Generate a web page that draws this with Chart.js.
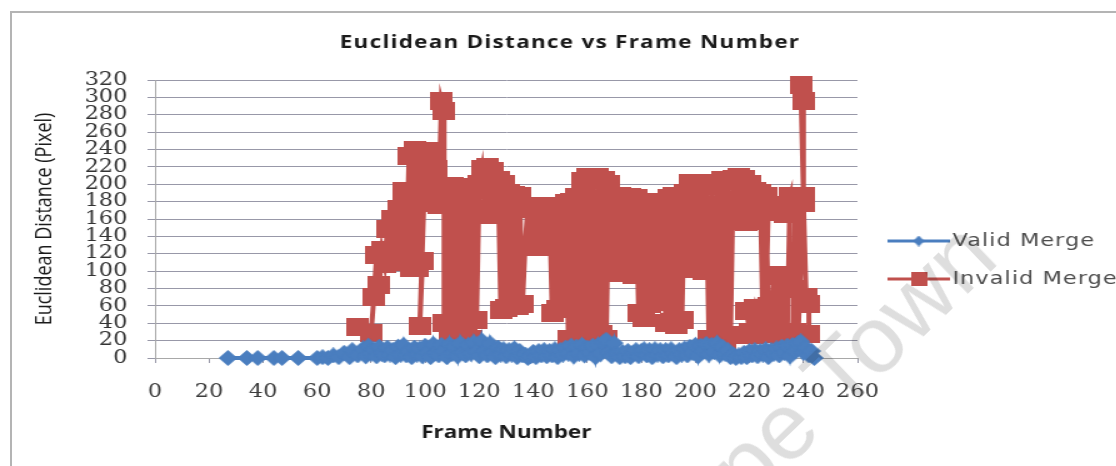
<!DOCTYPE html>
<html>
<head>
<meta charset="utf-8">
<title>Euclidean Distance vs Frame Number</title>
<script src="https://cdn.jsdelivr.net/npm/chart.js@4.4.0/dist/chart.umd.min.js"></script>
<style>
  html, body { margin:0; padding:0; background:#fff; overflow:hidden; }
  .frame { position:absolute; left:10px; top:11px; width:1120px; height:470px;
           border-top:2px solid #b4b4b4; border-left:2px solid #b4b4b4; }
  .wrap { position:absolute; left:0; top:0; width:893px; height:466px;
          transform:scaleX(1.25); transform-origin:0 0; }
  .mark { position:absolute; left:600px; top:528px; transform-origin:0 0; transform:rotate(-44deg);
          font:95px "Liberation Sans"; color:rgba(0,0,0,0.13); white-space:nowrap; pointer-events:none; }
</style>
</head>
<body>
<div class="frame"></div>
<div class="wrap"><canvas id="myChart" width="893" height="466"></canvas></div>
<div class="mark">Cape Town</div>
<script>
// 축 눈금
var v_xTicks = [0,20,40,60,80,100,120,140,160,180,200,220,240,260];
var v_yTicks = [0,20,40,60,80,100,120,140,160,180,200,220,240,260,280,300,320];

// Valid Merge : [frame, distance]
var v_valid = [
  [27,0],[34,0],[38,0],[44,0],[47,0],[53,0],[60,0],[62,1],[64,0],[66,3],[68,1],[70,6],[72,1],[73,9],
  [75,3],[77,11],[78,2],[79,14],[80,5],[81,10],[82,2],[83,13],[84,5],[85,3],[86,12],[87,4],[88,9],
  [89,1],[90,13],[91,4],[92,15],[93,3],[94,8],[95,1],[96,12],[97,4],[98,11],[99,2],[100,14],[101,6],
  [102,1],[103,16],[104,6],[105,3],[106,15],[107,8],[108,1],[109,16],[110,5],[111,13],[112,2],[113,17],
  [114,6],[115,3],[116,15],[117,5],[118,18],[119,7],[120,2],[121,20],[122,8],[123,3],[124,17],[125,6],
  [126,1],[127,12],[128,4],[129,10],[130,2],[131,9],[132,4],[133,11],[134,1],[135,8],[136,3],[137,4],
  [138,0],[139,2],[140,7],[141,1],[142,8],[143,3],[144,9],[145,2],[146,8],[147,3],[148,10],[149,1],
  [150,9],[151,4],[152,12],[153,5],[154,14],[155,2],[156,13],[157,5],[158,15],[159,3],[160,12],[161,6],
  [162,14],[163,1],[164,15],[165,5],[166,18],[167,21],[168,6],[169,2],[170,17],[171,5],[172,1],[173,7],
  [174,2],[175,8],[176,1],[177,6],[178,9],[179,2],[180,8],[181,10],[182,3],[183,9],[184,1],[185,10],
  [186,4],[187,9],[188,2],[189,9],[190,3],[191,10],[192,5],[193,1],[194,9],[195,4],[196,11],[197,3],
  [198,13],[199,6],[200,15],[201,2],[202,14],[203,8],[204,16],[205,4],[206,15],[207,7],[208,17],[209,3],
  [210,13],[211,5],[212,9],[213,1],[214,4],[215,0],[216,3],[217,1],[218,6],[219,1],[220,8],[221,3],
  [222,9],[223,2],[224,8],[225,4],[226,10],[227,1],[228,9],[229,5],[230,11],[231,3],[232,13],[233,6],
  [234,14],[235,2],[236,15],[237,8],[238,17],[239,19],[240,6],[241,12],[242,3],[243,8],[244,0]
];

// Invalid Merge : [frame, distance]
var v_invalid = [
  [75,36],[80,29],[81,70],[82,118],[83,84],[84,124],[85,108],[86,148],[87,112],[88,160],[89,118],
  [90,172],[91,112],[92,192],[93,110],[94,232],[95,104],[96,240],[97,104],[98,232],[99,112],[98,37],
  [100,226],[101,182],[102,238],[103,178],[104,218],[105,176],[106,296],[107,284],[107,40],[108,195],
  [109,30],[110,198],[111,36],[112,192],[113,25],[114,196],[115,30],[116,190],[117,22],[118,197],
  [119,44],[120,200],[121,217],[122,172],[123,220],[124,165],[125,215],[126,170],[127,205],[128,55],
  [129,200],[130,58],[131,190],[132,60],[133,188],[134,60],[135,186],[136,62],[137,130],[138,175],
  [139,128],[140,172],[141,132],[142,174],[143,128],[144,172],[145,130],[146,175],[147,52],[148,170],
  [149,56],[150,175],[151,60],[152,178],[153,22],[154,180],[155,20],[156,185],[157,24],[158,204],
  [159,20],[160,208],[161,26],[162,206],[163,18],[164,208],[165,28],[166,205],[167,22],[168,200],
  [169,100],[170,185],[171,98],[172,186],[173,102],[174,184],[175,100],[176,185],[177,96],[178,184],
  [179,52],[180,180],[181,46],[182,178],[183,62],[184,176],[185,64],[186,178],[187,66],[188,180],
  [189,40],[190,184],[191,42],[192,186],[193,38],[194,185],[195,44],[196,190],[197,104],[198,201],
  [199,102],[200,200],[201,106],[202,202],[203,100],[204,198],[205,22],[206,200],[207,20],[208,198],
  [209,24],[210,205],[211,20],[212,204],[213,26],[214,206],[215,160],[216,208],[217,158],[218,206],
  [219,156],[220,200],[221,160],[222,192],[223,158],[224,190],[225,40],[226,186],[227,60],[225,28],
  [223,56],[221,26],[219,54],[220,30],[222,58],[224,30],[226,50],[227,176],[229,168],[231,174],
  [233,166],[235,186],[234,30],[233,96],[232,26],[231,94],[230,28],[229,96],[228,30],[236,24],
  [237,182],[236,80],[238,186],[237,30],[239,178],[238,24],[240,186],[239,314],[240,296],[240,178],
  [241,70],[242,62],[242,28]
];

var v_title = 'Euclidean Distance vs Frame Number';
var v_blue = '#4a7ebf';
var v_red = '#c0504d';

// 마커 이미지 만들기
function f_marker(p_kind, p_color, p_w, p_h){
  var v_c = document.createElement('canvas');
  v_c.width = p_w; v_c.height = p_h;
  var g = v_c.getContext('2d');
  g.fillStyle = p_color;
  if(p_kind == 'rect'){
    g.fillRect(0, 0, p_w, p_h);
  } else {
    g.beginPath();
    g.moveTo(p_w/2, 0); g.lineTo(p_w, p_h/2); g.lineTo(p_w/2, p_h); g.lineTo(0, p_h/2);
    g.closePath(); g.fill();
  }
  return v_c;
}

function f_points(p_arr){
  return p_arr.map(function(p){ return {x:p[0], y:p[1]}; });
}

function f_ticks(p_list){
  return function(p_scale){
    p_scale.ticks = p_list.map(function(v){ return {value:v}; });
  };
}

// 제목 + 범례 (선 + 마커 + 글자)
var v_textPlugin = {
  id: 'titleLegend',
  afterDraw: function(chart){
    var ctx = chart.ctx;
    ctx.save();
    ctx.letterSpacing = '1px';
    ctx.fillStyle = '#1a1a1a';
    ctx.font = 'bold 18px "Open Sans"';
    ctx.textAlign = 'center';
    ctx.textBaseline = 'middle';
    ctx.fillText(v_title, 456, 43);

    var v_rows = [241, 279];
    chart.data.datasets.forEach(function(ds, i){
      var y = v_rows[i];
      ctx.strokeStyle = ds.borderColor;
      ctx.lineWidth = 3;
      ctx.beginPath(); ctx.moveTo(710, y); ctx.lineTo(760, y); ctx.stroke();
      var m = ds.legendMarker;
      ctx.drawImage(m, 735 - m.width/2, y - m.height/2);
      ctx.fillStyle = '#4d4d4d';
      ctx.font = '18px "DejaVu Sans"';
      ctx.letterSpacing = '0.8px';
      ctx.textAlign = 'left';
      ctx.fillText(ds.label, 762, y);
    });
    ctx.restore();
  }
};

var v_gridColor = '#9898a8';

var ctx = document.getElementById('myChart').getContext('2d');
var myChart = new Chart(ctx, {
  type: 'scatter',
  data: {
    datasets: [{
      label: 'Valid Merge',
      data: f_points(v_valid),
      showLine: true,
      borderColor: v_blue,
      backgroundColor: v_blue,
      borderWidth: 4,
      pointStyle: f_marker('diamond', v_blue, 15, 16),
      legendMarker: f_marker('diamond', v_blue, 9, 11),
      clip: false
    }, {
      label: 'Invalid Merge',
      data: f_points(v_invalid),
      showLine: true,
      borderColor: v_red,
      backgroundColor: v_red,
      borderWidth: 4,
      pointStyle: f_marker('rect', v_red, 18, 18),
      legendMarker: f_marker('rect', v_red, 13, 14),
      clip: false
    }]
  },
  options: {
    responsive: false,
    animation: false,
    events: [],
    layout: { padding: { left: 0, right: 207, top: 80, bottom: 0 } },
    plugins: {
      legend: { display: false },
      tooltip: { enabled: false },
      title: { display: false }
    },
    scales: {
      x: {
        type: 'linear',
        min: 0, max: 260,
        afterBuildTicks: f_ticks(v_xTicks),
        afterFit: function(s){ s.height = 108; },
        grid: { drawOnChartArea: false, drawTicks: true, tickLength: 5, color: v_gridColor },
        border: { color: '#a8a8a8', width: 1 },
        ticks: { color: '#3c3c3c', font: { family: 'DejaVu Serif', size: 18 }, padding: 19, maxRotation: 0, autoSkip: false },
        title: { display: true, text: 'Frame Number', color: '#1a1a1a',
                 font: { family: 'Open Sans', size: 18, weight: 'bold' }, padding: { top: 0, bottom: 22 } }
      },
      y: {
        min: 0, max: 320,
        afterBuildTicks: f_ticks(v_yTicks),
        afterFit: function(s){ s.width = 124; },
        grid: { color: v_gridColor, tickLength: 6, drawTicks: true },
        border: { color: '#a8a8a8', width: 1 },
        ticks: { color: '#333333', font: { family: 'DejaVu Serif', size: 18 }, padding: 16, autoSkip: false },
        title: { display: true, text: 'Euclidean Distance (Pixel)', color: '#1a1a1a',
                 font: { family: 'Open Sans', size: 18 }, padding: { top: 25, bottom: 0 } }
      }
    }
  },
  plugins: [v_textPlugin]
});
</script>
</body>
</html>
